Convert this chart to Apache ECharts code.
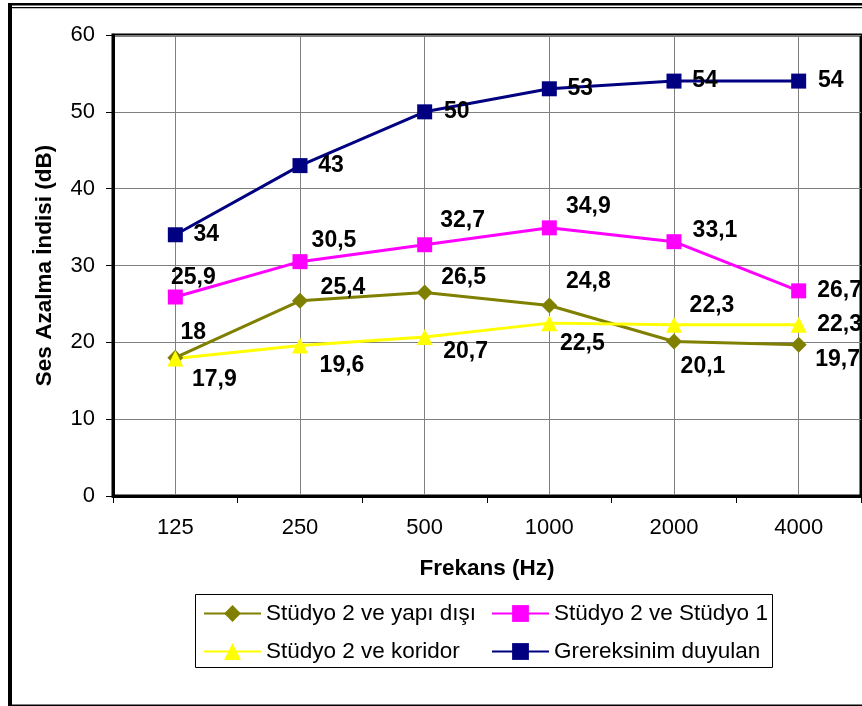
<!DOCTYPE html>
<html>
  <head>
    <meta charset="utf-8">
    <title>Ses Azalma İndisi</title>
    <style>
      html, body { margin: 0; padding: 0; background: #fff; }
      #chart { width: 862px; height: 706px; }
    </style>
  </head>
  <body>
    <div id="chart"></div>
    <script src="https://cdn.jsdelivr.net/npm/echarts@6/dist/echarts.min.js"></script>
    <script>
      // values
      var frequencies = ['125', '250', '500', '1000', '2000', '4000'];
      var yapiDisi = [18, 25.4, 26.5, 24.8, 20.1, 19.7];
      var studyo1 = [25.9, 30.5, 32.7, 34.9, 33.1, 26.7];
      var koridor = [17.9, 19.6, 20.7, 22.5, 22.3, 22.3];
      var gereksinim = [34, 43, 50, 53, 54, 54];
      var yTicks = [0, 10, 20, 30, 40, 50, 60];

      // where each value label sits relative to its point (px)
      var yapiDisiLabelPos = [[18, -25], [43, -13], [39, -15], [39, -24], [29, 25], [39, 15]];
      var studyo1LabelPos = [[18, -19], [34, -21], [38, -24], [39, -21], [41, -11], [41, 0]];
      var koridorLabelPos = [[39, 21], [42, 20], [41, 15], [33, 21], [38, -19], [41, 0]];
      var gereksinimLabelPos = [[31, 0], [31, 0], [32, 0], [31, 0], [31, 0], [32, 0]];

      var FONT = '"Liberation Sans", Arial, Helvetica, sans-serif';

      function withLabels(values, pos) {
        return values.map(function (v, i) {
          return { value: v, label: { offset: pos[i] } };
        });
      }

      function lineSeries(name, values, pos, color, symbol, size) {
        return {
          name: name,
          type: 'line',
          data: withLabels(values, pos),
          symbol: symbol,
          symbolSize: size,
          lineStyle: { color: color, width: 3 },
          itemStyle: { color: color },
          emphasis: { disabled: true },
          animation: false,
          label: {
            show: true,
            position: 'inside',
            color: '#000',
            fontFamily: FONT,
            fontSize: 23,
            fontWeight: 'bold',
            formatter: function (p) {
              return String(p.value).replace('.', ',');
            }
          }
        };
      }

      var chart = echarts.init(document.getElementById('chart'));
      var legendText = { fontFamily: FONT, fontSize: 22.5, color: '#000' };

      chart.setOption({
        backgroundColor: '#fff',
        animation: false,
        grid: {
          left: 113, right: 1, top: 35, bottom: 210,
          show: true, borderColor: '#000', borderWidth: 3
        },
        xAxis: {
          type: 'category',
          data: frequencies,
          boundaryGap: true,
          name: 'Frekans (Hz)',
          nameLocation: 'middle',
          nameGap: 61,
          nameTextStyle: { fontFamily: FONT, fontSize: 22.5, fontWeight: 'bold', color: '#000' },
          axisLine: { lineStyle: { color: '#000', width: 3 } },
          axisTick: { show: true, length: 7, lineStyle: { color: '#000', width: 1 } },
          axisLabel: { fontFamily: FONT, fontSize: 22, color: '#000', margin: 21 },
          splitLine: { show: true, alignWithLabel: true, lineStyle: { color: '#808080', width: 1 } }
        },
        yAxis: {
          type: 'value',
          min: yTicks[0],
          max: yTicks[yTicks.length - 1],
          interval: 10,
          name: 'Ses Azalma İndisi (dB)',
          nameLocation: 'middle',
          nameGap: 57,
          nameTextStyle: { fontFamily: FONT, fontSize: 22.5, fontWeight: 'bold', color: '#000' },
          axisLine: { show: true, lineStyle: { color: '#000', width: 3 } },
          axisTick: { show: true, length: 7, lineStyle: { color: '#000', width: 1 } },
          axisLabel: { fontFamily: FONT, fontSize: 22, color: '#000', margin: 18 },
          splitLine: { show: true, lineStyle: { color: '#808080', width: 1 } }
        },
        legend: [
          {
            data: ['Stüdyo 2 ve yapı dışı', 'Stüdyo 2 ve koridor'],
            orient: 'vertical', left: 203, top: 602, padding: 0,
            itemWidth: 57, itemHeight: 21, itemGap: 15,
            textStyle: legendText, selectedMode: false
          },
          {
            data: ['Stüdyo 2 ve Stüdyo 1', 'Grereksinim duyulan'],
            orient: 'vertical', left: 491, top: 602, padding: 0,
            itemWidth: 57, itemHeight: 21, itemGap: 15,
            textStyle: legendText, selectedMode: false
          }
        ],
        graphic: [
          { type: 'rect', silent: true, shape: { x: 195.5, y: 594.5, width: 577, height: 73 },
            style: { fill: 'none', stroke: '#000', lineWidth: 1 } },
          { type: 'rect', silent: true, shape: { x: 8, y: 3, width: 854, height: 2.5 }, style: { fill: '#000' } },
          { type: 'rect', silent: true, shape: { x: 8, y: 7, width: 854, height: 1.2 }, style: { fill: '#000' } },
          { type: 'rect', silent: true, shape: { x: 8, y: 3, width: 4, height: 703 }, style: { fill: '#000' } },
          { type: 'rect', silent: true, shape: { x: 8, y: 704.5, width: 854, height: 1.5 }, style: { fill: '#000' } }
        ],
        series: [
          lineSeries('Stüdyo 2 ve yapı dışı', yapiDisi, yapiDisiLabelPos, '#808000', 'diamond', 16),
          lineSeries('Stüdyo 2 ve Stüdyo 1', studyo1, studyo1LabelPos, '#ff00ff', 'rect', 15),
          lineSeries('Stüdyo 2 ve koridor', koridor, koridorLabelPos, '#ffff00', 'triangle', 16),
          lineSeries('Grereksinim duyulan', gereksinim, gereksinimLabelPos, '#000080', 'rect', 15)
        ]
      });
    </script>
  </body>
</html>
